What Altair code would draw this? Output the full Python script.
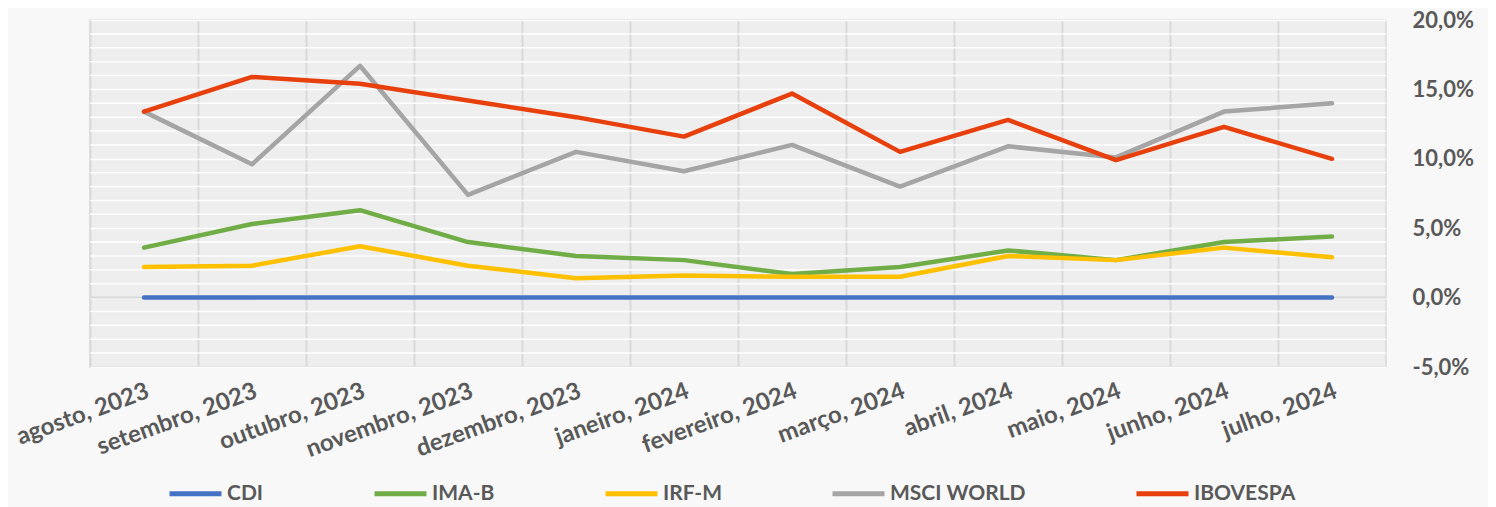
import altair as alt
import pandas as pd

months = ["agosto, 2023", "setembro, 2023", "outubro, 2023", "novembro, 2023",
          "dezembro, 2023", "janeiro, 2024", "fevereiro, 2024", "março, 2024",
          "abril, 2024", "maio, 2024", "junho, 2024", "julho, 2024"]

series_names = ["CDI", "IMA-B", "IRF-M", "MSCI WORLD", "IBOVESPA"]
series_colors = ["#4472C4", "#70AD47", "#FFC000", "#A5A5A5", "#E8400C"]

cdi = [0.0, 0.0, 0.0, 0.0, 0.0, 0.0, 0.0, 0.0, 0.0, 0.0, 0.0, 0.0]
ima_b = [3.6, 5.3, 6.3, 4.0, 3.0, 2.7, 1.7, 2.2, 3.4, 2.7, 4.0, 4.4]
irf_m = [2.2, 2.3, 3.7, 2.3, 1.4, 1.6, 1.5, 1.5, 3.0, 2.7, 3.6, 2.9]
msci_world = [13.4, 9.6, 16.7, 7.4, 10.5, 9.1, 11.0, 8.0, 10.9, 10.1, 13.4, 14.0]
ibovespa = [13.4, 15.9, 15.4, 14.2, 13.0, 11.6, 14.7, 10.5, 12.8, 9.9, 12.3, 10.0]

y_ticks = [-5, 0, 5, 10, 15, 20]
minor_lines = [-4, -3, -2, -1, 1, 2, 3, 4, 6, 7, 8, 9, 11, 12, 13, 14, 16, 17, 18, 19]

rows = []
for name, vals in zip(series_names, [cdi, ima_b, irf_m, msci_world, ibovespa]):
    for m, v in zip(months, vals):
        rows.append({"mes": m, "serie": name, "valor": v, "ordem": series_names.index(name)})
df = pd.DataFrame(rows)
df_minor = pd.DataFrame({"valor": minor_lines})
df_zero = pd.DataFrame({"valor": [0]})

FONT = "Lato"
TXT = "#595959"

y_scale = alt.Scale(domain=[-5, 20], nice=False, zero=False)

y_axis = alt.Axis(
    title=None, orient="right", values=y_ticks, domain=False, ticks=False,
    grid=True, gridColor="#ffffff", gridWidth=1.5, gridOpacity=0.9,
    labelOverlap=False,
    labelExpr="(datum.value < 0 ? '-' : '') + replace(format(abs(datum.value), '.1f'), '.', ',') + '%'",
    labelPadding=26, labelAlign="left",
    labelFont=FONT, labelFontSize=22, labelFontWeight="bold", labelColor=TXT,
)

x_enc = alt.X(
    "mes:N",
    sort=months,
    scale=alt.Scale(type="band", domain=months, paddingInner=0, paddingOuter=0),
    axis=alt.Axis(
        title=None, domain=False, ticks=False, grid=True, bandPosition=0,
        gridColor="#d9d9d9", gridWidth=2,
        labelAngle=340, labelAlign="right", labelBaseline="top",
        labelPadding=12, labelOverlap=False,
        labelFont=FONT, labelFontSize=24, labelFontWeight="bold", labelColor=TXT,
    ),
)

minor_rules = alt.Chart(df_minor).mark_rule(color="#ffffff", strokeWidth=1.5, opacity=0.9).encode(
    y=alt.Y("valor:Q", scale=y_scale, axis=y_axis)
)

zero_rule = alt.Chart(df_zero).mark_rule(color="#d9d9d9", strokeWidth=2).encode(
    y=alt.Y("valor:Q", scale=y_scale, axis=y_axis)
)

lines = alt.Chart(df).mark_line(strokeWidth=4.5, strokeCap="round", strokeJoin="round").encode(
    x=x_enc,
    y=alt.Y("valor:Q", scale=y_scale, axis=y_axis),
    color=alt.Color(
        "serie:N",
        scale=alt.Scale(domain=series_names, range=series_colors),
        legend=alt.Legend(
            title=None, orient="none", legendX=77, legendY=445,
            direction="horizontal", columns=5, symbolType="stroke",
            symbolSize=2704, symbolStrokeWidth=5, columnPadding=100,
            labelOffset=3, padding=0,
            labelFont=FONT, labelFontSize=21, labelFontWeight="bold", labelColor=TXT,
        ),
    ),
    order=alt.Order("ordem:Q"),
    detail="serie:N",
)

chart = alt.layer(minor_rules, zero_rule, lines).properties(
    width=1296, height=347,
    padding={"left": 82, "top": 12, "right": 102, "bottom": 140},
    autosize=alt.AutoSizeParams(type="none"),
    background="#f8f8f8",
).configure_view(
    fill="#eeeeee", stroke="#d9d9d9", strokeWidth=1.5
)

chart.save("out.html", embed_options={"renderer": "svg", "actions": False})
